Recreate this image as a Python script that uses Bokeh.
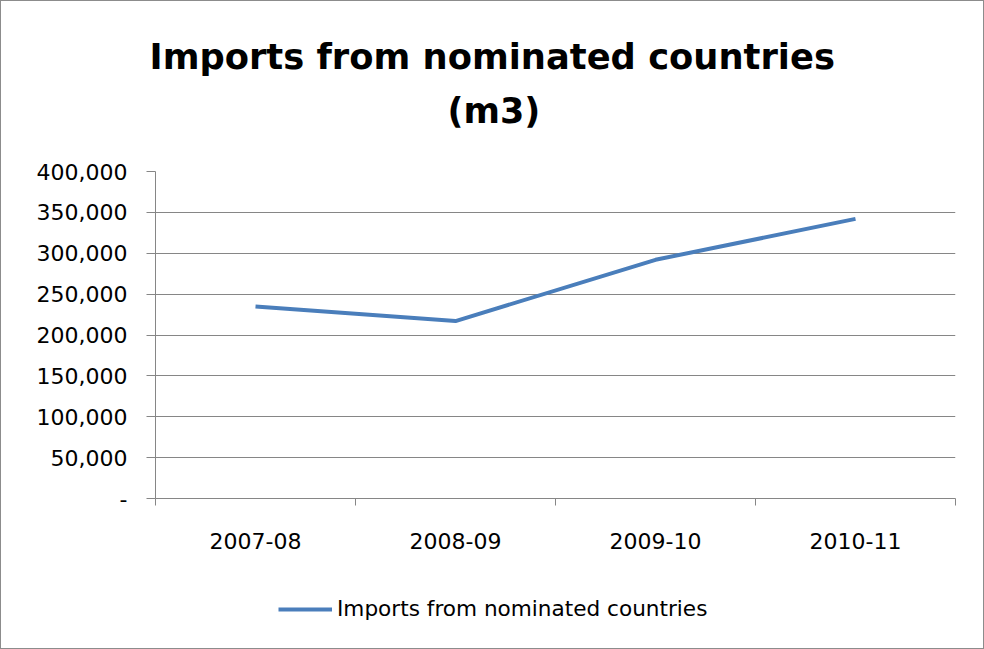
from bokeh.plotting import figure
from bokeh.layouts import column
from bokeh.models import (Range1d, FixedTicker, NumeralTickFormatter, Title,
                          Legend, LegendItem)
from bokeh.embed import file_html
from bokeh.resources import INLINE

# ---- data ----
categories = ["2007-08", "2008-09", "2009-10", "2010-11"]
imports_m3 = [235000, 217000, 292000, 342000]
y_ticks = [0, 50000, 100000, 150000, 200000, 250000, 300000, 350000, 400000]
series_name = "Imports from nominated countries"
title_lines = ["Imports from nominated countries", "(m3)"]

FONT = "DejaVu Sans"
GRID = "#868686"
LINE = "#4A7EBB"
LINE_W = 4

x_pos = [i + 0.5 for i in range(len(categories))]
boundaries = list(range(len(categories) + 1))

p = figure(width=982, height=580, output_backend="svg", toolbar_location=None,
           x_range=Range1d(0, len(categories)), y_range=Range1d(y_ticks[0], y_ticks[-1]),
           min_border_left=154, min_border_right=28, min_border_top=170, min_border_bottom=83)
p.outline_line_color = None
p.background_fill_color = "white"
p.border_fill_color = "white"

p.line(x_pos, imports_m3, line_color=LINE, line_width=LINE_W)

# y axis
p.yaxis.ticker = FixedTicker(ticks=y_ticks)
p.yaxis.formatter = NumeralTickFormatter(format="0,0")
p.yaxis.major_label_overrides = {0: "-"}
p.yaxis.axis_line_color = GRID
p.yaxis.major_tick_line_color = GRID
p.yaxis.major_tick_out = 9
p.yaxis.major_tick_in = 0
p.yaxis.minor_tick_line_color = None
p.yaxis.major_label_standoff = 19
p.yaxis.major_label_text_font = FONT
p.yaxis.major_label_text_font_size = "22px"
p.yaxis.major_label_text_color = "black"

p.ygrid.ticker = FixedTicker(ticks=y_ticks)
p.ygrid.grid_line_color = GRID
p.xgrid.grid_line_color = None

# x axis: labels at category centres, tick marks at category boundaries
p.xaxis.ticker = FixedTicker(ticks=x_pos, minor_ticks=boundaries)
p.xaxis.major_label_overrides = {x: c for x, c in zip(x_pos, categories)}
p.xaxis.axis_line_color = GRID
p.xaxis.major_tick_line_color = None
p.xaxis.major_tick_out = 0
p.xaxis.major_tick_in = 0
p.xaxis.minor_tick_line_color = GRID
p.xaxis.minor_tick_out = 7
p.xaxis.minor_tick_in = 0
p.xaxis.major_label_standoff = 27
p.xaxis.major_label_text_font = FONT
p.xaxis.major_label_text_font_size = "22px"
p.xaxis.major_label_text_color = "black"

# title: spacer nearest the frame, then "(m3)", then the main line
p.add_layout(Title(text=" ", text_font_size="1px", standoff=38), "above")
p.add_layout(Title(text=title_lines[1], align="left", offset=292, standoff=0,
                   text_font=FONT, text_font_style="bold", text_font_size="35px",
                   text_color="black"), "above")
p.add_layout(Title(text=title_lines[0], align="left", offset=-6, standoff=23,
                   text_font=FONT, text_font_style="bold", text_font_size="35.3px",
                   text_color="black"), "above")

# legend strip below the chart (its frame is aligned with the chart's frame)
lg = figure(width=982, height=67, output_backend="svg", toolbar_location=None,
            x_range=Range1d(0, 1), y_range=Range1d(0, 1),
            x_axis_type=None, y_axis_type=None,
            min_border_left=0, min_border_right=0, min_border_top=0, min_border_bottom=0)
lg.outline_line_color = None
lg.xgrid.visible = False
lg.ygrid.visible = False
# same series drawn outside this strip's visible range: only its legend swatch shows
swatch = lg.line(x_pos, imports_m3, line_color=LINE, line_width=LINE_W)
legend = Legend(items=[LegendItem(label=series_name, renderers=[swatch])],
                location=(123, 27), orientation="horizontal", margin=0,
                padding=0, border_line_color=None, background_fill_alpha=0,
                glyph_width=54, glyph_height=20, label_standoff=5,
                label_text_font=FONT, label_text_font_size="21.6px", label_text_color="black")
lg.add_layout(legend, "center")

page = column(p, lg, spacing=0)
page.styles = {"border": "1px solid #8c8c8c"}

open("out.html", "w").write(file_html(page, INLINE))
